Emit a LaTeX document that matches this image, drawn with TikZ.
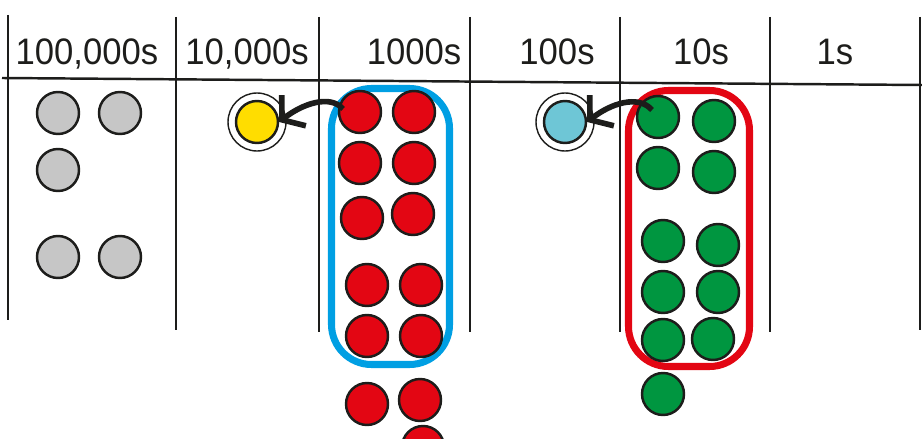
\documentclass[tikz,border=0pt]{standalone}
\usepackage{fontspec}
\setmainfont{Liberation Sans}[FakeStretch=0.94]
\usetikzlibrary{arrows.meta,calc}
\definecolor{cgray}{HTML}{C6C6C6}
\definecolor{cred}{HTML}{E30613}
\definecolor{cgreen}{HTML}{009640}
\definecolor{cyel}{HTML}{FFDD00}
\definecolor{clblue}{HTML}{6EC6D6}
\definecolor{cblue}{HTML}{009FE3}
\definecolor{cink}{HTML}{1D1D1B}
\begin{document}
\begin{tikzpicture}[x=0.02cm,y=-0.02cm,
  gridline/.style={draw=cink, line width=1.4pt},
  counter/.style={circle, draw=cink, line width=1.4pt, minimum size=0.84cm, inner sep=0pt},
  graycnt/.style={counter, fill=cgray},
  redcnt/.style={counter, fill=cred},
  greencnt/.style={counter, fill=cgreen},
  ring/.style={circle, draw=cink, line width=0.8pt, minimum size=1.16cm, inner sep=0pt, fill=white},
  groupbox/.style={rounded corners=0.8cm, line width=4pt},
  carry/.style={draw=cink, line width=3.2pt, -{Straight Barb[length=3mm,width=7.8mm]}},
  header/.style={anchor=base, font=\fontsize{21}{25}\selectfont, text=cink}
]
\useasboundingbox (0,0) rectangle (922,439);

% table grid
\draw[gridline] (8,15) -- (8,320);
\draw[gridline] (176,17) -- (176,330);
\draw[gridline] (319,17) -- (319,332);
\draw[gridline] (470,17) -- (470,332);
\draw[gridline] (620,17) -- (620,332);
\draw[gridline] (770,17) -- (770,332);
\draw[gridline] (920,17) -- (920,330);
\draw[gridline] (2,78) -- (922,85);

% headers
\node[header] (h1) at (87,65) {100,000s};
\node[header] (h2) at (247,65) {10,000s};
\node[header] (h3) at (414,65) {1000s};
\node[header] (h4) at (557,65) {100s};
\node[header] (h5) at (701,65) {10s};
\node[header] (h6) at (835,65) {1s};

% group boxes
\draw[groupbox, draw=cblue] (331.5,88.5) rectangle (449.5,364.5);
\draw[groupbox, draw=cred] (628.5,90.5) rectangle (749.5,366.5);

% 100,000s
\node[graycnt] (ga) at (58,113) {};
\node[graycnt] (gb) at (120,113) {};
\node[graycnt] (gc) at (58,170) {};
\node[graycnt] (gd) at (58,257) {};
\node[graycnt] (ge) at (120,257) {};

% 10,000s carried counter
\node[ring] (yring) at (257,122) {};
\node[counter, fill=cyel] (ycnt) at (257,122) {};

% 1000s
\node[redcnt] (r1) at (360,112) {};
\node[redcnt] (r2) at (414,112) {};
\node[redcnt] (r3) at (360,163) {};
\node[redcnt] (r4) at (414,163) {};
\node[redcnt] (r5) at (362,218) {};
\node[redcnt] (r6) at (413,214) {};
\node[redcnt] (r7) at (367,285) {};
\node[redcnt] (r8) at (421,285) {};
\node[redcnt] (r9) at (367,336) {};
\node[redcnt] (r10) at (421,336) {};
\node[redcnt] (r11) at (367,404) {};
\node[redcnt] (r12) at (420,400) {};
\node[redcnt] (r13) at (423,447) {};

% 100s carried counter
\node[ring] (bring) at (565,122) {};
\node[counter, fill=clblue] (bcnt) at (565,122) {};

% 10s
\node[greencnt] (t1) at (658,117) {};
\node[greencnt] (t2) at (714,121) {};
\node[greencnt] (t3) at (658,168) {};
\node[greencnt] (t4) at (714,172) {};
\node[greencnt] (t5) at (663,241) {};
\node[greencnt] (t6) at (718,245) {};
\node[greencnt] (t7) at (663,292) {};
\node[greencnt] (t8) at (718,292) {};
\node[greencnt] (t9) at (663,340) {};
\node[greencnt] (t10) at (713,339) {};
\node[greencnt] (t11) at (663,394) {};

% carry arrows
\draw[carry] ($(r1)+(-17,-3)$) .. controls (330,94) and (302,104) .. (ycnt.east);
\draw[carry] ($(t1)+(-6,-7)$) .. controls (638,94) and (610,104) .. (bcnt.east);
\end{tikzpicture}
\end{document}
